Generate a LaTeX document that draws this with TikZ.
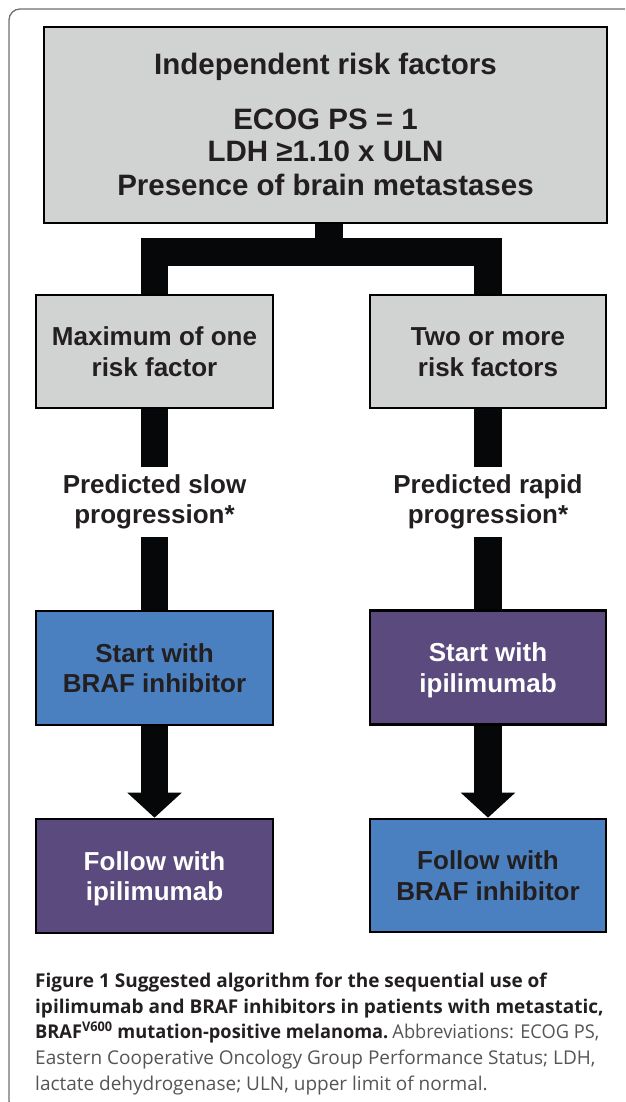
\documentclass[tikz,border=0pt]{standalone}
\usepackage{fontspec}
\usepackage{graphicx}
\setmainfont{Liberation Sans}
\newfontfamily\flowfont{Liberation Sans}
\newfontfamily\capfont{Open Sans}
\usetikzlibrary{arrows.meta,calc}
\definecolor{boxgray}{HTML}{D1D3D2}
\definecolor{boxblue}{HTML}{4A80C0}
\definecolor{boxpurple}{HTML}{5B4A7D}
\definecolor{inkdark}{HTML}{231F20}
\definecolor{bargray}{HTML}{060709}
\definecolor{framegray}{HTML}{707070}
\definecolor{capgray}{HTML}{555555}
\tikzset{
  flowbase/.style={draw=black, line width=2.6pt, inner sep=0pt, align=center},
  flowbox/.style={flowbase, text height=55pt, text depth=6pt,
    font=\flowfont\bfseries\fontsize{26}{30.5}\selectfont},
  graybox/.style={flowbox, fill=boxgray, text=inkdark},
  bluebox/.style={flowbox, fill=boxblue, text=inkdark},
  purplebox/.style={flowbox, fill=boxpurple, text=white},
  topbox/.style={flowbase, fill=boxgray, text=inkdark, text height=142pt, text depth=2pt,
    font=\flowfont\bfseries\fontsize{29.5}{33}\selectfont},
  barline/.style={draw=bargray, line width=27.5pt, line join=miter},
  arrowline/.style={draw=bargray, line width=27.5pt, -{Triangle[width=53pt,length=25pt]}},
  labeltext/.style={align=center, inner xsep=0pt, inner ysep=8pt, text=inkdark,
    font=\flowfont\bfseries\fontsize{26}{30}\selectfont},
  captext/.style={anchor=base west, inner sep=0pt, font=\capfont\fontsize{19}{23}\selectfont}
}
\begin{document}
\begin{tikzpicture}[x=1pt,y=-1pt]
\useasboundingbox (0,0) rectangle (625,1102);
\begin{scope}
  \clip (0,0) rectangle (625,1102);
  \draw[framegray, line width=1.3pt, rounded corners=11pt] (9,9) rectangle (680,1112);
\end{scope}

% top box
\node[topbox, minimum width=563pt, minimum height=196pt] (top) at (325.5,125)
  {Independent risk factors\\[21pt]ECOG PS = 1\\LDH ≥1.10 x ULN\\Presence of brain metastases};

% middle boxes
\node[graybox, minimum width=237pt, minimum height=113pt] (m1) at (154.5,351.5)
  {Maximum of one\\risk factor};
\node[graybox, minimum width=236pt, minimum height=113pt] (m2) at (488,351.5)
  {Two or more\\risk factors};

% predicted labels
\node[labeltext] (p1) at (154.5,502) {Predicted slow\\progression*};
\node[labeltext] (p2) at (488,502) {Predicted rapid\\progression*};

% start boxes
\node[bluebox, minimum width=237pt, minimum height=114pt] (s1) at (154.5,668)
  {Start with\\BRAF inhibitor};
\node[purplebox, minimum width=236pt, minimum height=114pt] (s2) at (488,667.5)
  {Start with\\ipilimumab};

% follow boxes
\node[purplebox, minimum width=237pt, minimum height=114pt] (f1) at (154.5,876)
  {Follow with\\ipilimumab};
\node[bluebox, minimum width=236pt, minimum height=113pt] (f2) at (488,875.5)
  {Follow with\\BRAF inhibitor};

% connectors
\coordinate (stem) at ($(top.south)+(3.5,0)$);
\coordinate (bar) at ($(stem)+(0,27.5)$);
\draw[barline] (stem) -- (bar);
\draw[barline] (m1.north) -- (m1.north |- bar) -- (m2.north |- bar) -- (m2.north);
\draw[barline] (m1.south) -- (p1.north);
\draw[barline] (m2.south) -- (p2.north);
\draw[barline] (p1.south) -- (s1.north);
\draw[barline] (p2.south) -- (s2.north);
\draw[arrowline] (s1.south) -- (f1.north);
\draw[arrowline] (s2.south) -- (f2.north);

% caption
\node[captext, text=inkdark] (cap1) at (35,987)
  {\bfseries Figure 1 Suggested algorithm for the sequential use of};
\node[captext, text=inkdark] (cap2) at (35,1013)
  {\bfseries ipilimumab and BRAF inhibitors in patients with metastatic,};
\node[captext, text=inkdark] (cap3) at (35,1038)
  {\scalebox{0.96}[1]{\bfseries BRAF\textsuperscript{V600} mutation-positive melanoma.\hspace{0.22em}\mdseries\color{capgray}Abbreviations: ECOG PS,}};
\node[captext, text=capgray] (cap4) at (35,1064)
  {Eastern Cooperative Oncology Group Performance Status; LDH,};
\node[captext, text=capgray] (cap5) at (35,1090)
  {lactate dehydrogenase; ULN, upper limit of normal.};
\end{tikzpicture}
\end{document}
